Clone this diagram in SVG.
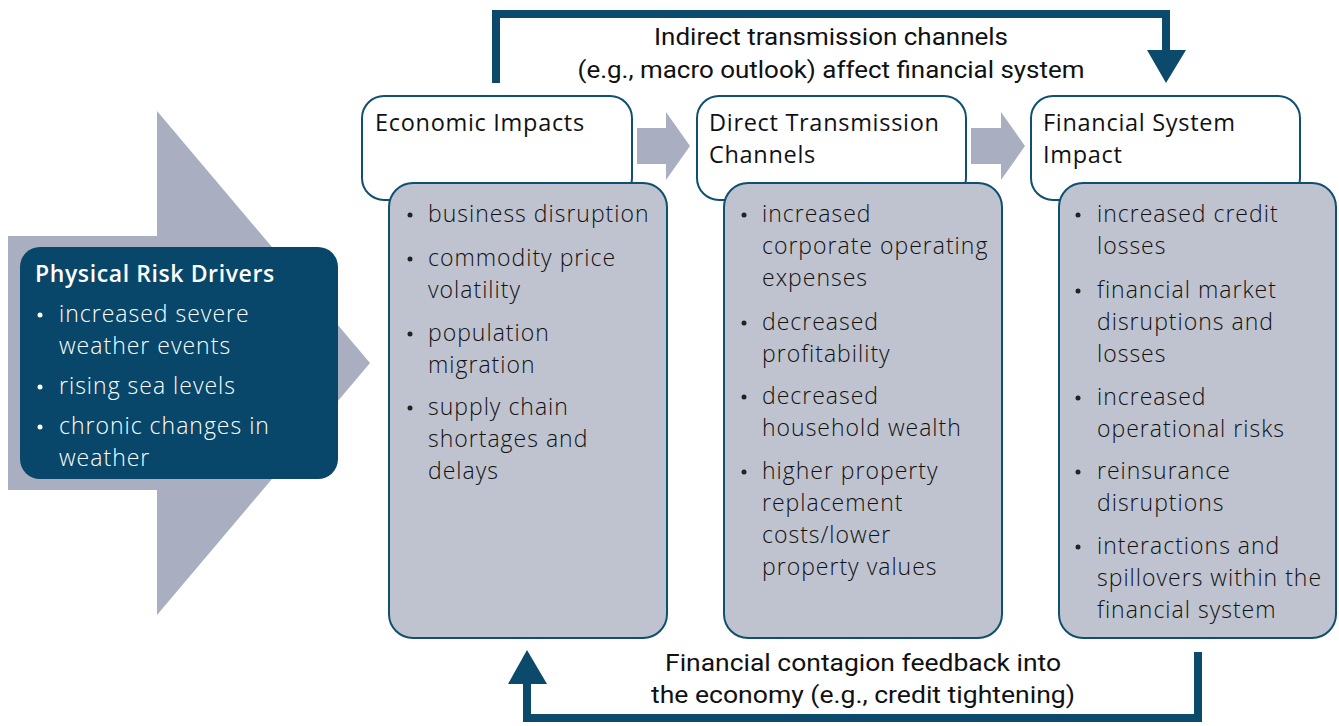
<svg xmlns="http://www.w3.org/2000/svg" width="1339" height="726" viewBox="0 0 1339 726">
  <style>
    .bg { fill: #ffffff; }
    .flow { fill: #a9afc0; }
    .head { fill: #ffffff; stroke: #0f4f70; stroke-width: 2; }
    .body { fill: #bfc3cf; stroke: #0f4f70; stroke-width: 2; }
    .title { font-family: "Open Sans", Lato, sans-serif; font-size: 23.5px; letter-spacing: 0.7px; fill: #111; }
    .item { font-family: "Open Sans", Lato, sans-serif; font-size: 23px; font-weight: 300; letter-spacing: 1px; fill: #111; }
    .dot { fill: #222; }
    .drv-title { font-family: "Open Sans", Lato, sans-serif; font-size: 23px; letter-spacing: 0.6px; font-weight: 600; fill: #ffffff; }
    .drv-item { font-family: "Open Sans", Lato, sans-serif; font-size: 23px; font-weight: 300; letter-spacing: 1px; fill: #ffffff; }
    .drv-dot { fill: #ffffff; }
    .link { fill: none; stroke: #0b4a6b; stroke-width: 8; }
    .tip { fill: #0b4a6b; }
    .lbl { font-family: Roboto, "Liberation Sans", sans-serif; font-size: 24px; fill: #111; text-anchor: middle; }
  </style>
  <rect class="bg" x="0" y="0" width="1339" height="726"/>

  <!-- broad arrow behind the drivers box -->
  <g id="drivers-arrow">
    <polygon class="flow" points="8,236 157,236 157,111 370,363 157,615 157,490 8,490"/>
  </g>

  <g id="physical-risk-drivers">
    <rect x="20" y="247" width="318" height="232" rx="20" fill="#08476a"/>
    <text class="drv-title" x="35" y="282">Physical Risk Drivers</text>
    <circle class="drv-dot" cx="40" cy="315" r="2.5"/>
    <text class="drv-item" x="59" y="322">increased severe</text>
    <text class="drv-item" x="59" y="354">weather events</text>
    <circle class="drv-dot" cx="40" cy="387" r="2.5"/>
    <text class="drv-item" x="59" y="394">rising sea levels</text>
    <circle class="drv-dot" cx="40" cy="427" r="2.5"/>
    <text class="drv-item" x="59" y="434">chronic changes in</text>
    <text class="drv-item" x="59" y="466">weather</text>
  </g>

  <!-- small arrows between column headers -->
  <g id="step-arrows">
    <polygon class="flow" points="637,128 666,128 666,112 690,146 666,180 666,164 637,164"/>
    <polygon class="flow" points="971,128 1001,128 1001,112 1025,146 1001,180 1001,164 971,164"/>
  </g>

  <g id="economic-impacts">
    <rect class="head" x="362" y="96" width="270" height="104" rx="22"/>
    <text class="title" x="375" y="131">Economic Impacts</text>
    <rect class="body" x="389" y="183" width="278" height="455" rx="24"/>
    <circle class="dot" cx="410" cy="215" r="2.5"/>
    <text class="item" x="428" y="222">business disruption</text>
    <circle class="dot" cx="410" cy="259" r="2.5"/>
    <text class="item" x="428" y="266">commodity price</text>
    <text class="item" x="428" y="298">volatility</text>
    <circle class="dot" cx="410" cy="334" r="2.5"/>
    <text class="item" x="428" y="341">population</text>
    <text class="item" x="428" y="373">migration</text>
    <circle class="dot" cx="410" cy="408" r="2.5"/>
    <text class="item" x="428" y="415">supply chain</text>
    <text class="item" x="428" y="447">shortages and</text>
    <text class="item" x="428" y="479">delays</text>
  </g>

  <g id="direct-transmission">
    <rect class="head" x="697" y="96" width="269" height="104" rx="22"/>
    <text class="title" x="709" y="131">Direct Transmission</text>
    <text class="title" x="709" y="163">Channels</text>
    <rect class="body" x="724" y="183" width="278" height="455" rx="24"/>
    <circle class="dot" cx="744" cy="215" r="2.5"/>
    <text class="item" x="762" y="222">increased</text>
    <text class="item" x="762" y="254">corporate operating</text>
    <text class="item" x="762" y="286">expenses</text>
    <circle class="dot" cx="744" cy="323" r="2.5"/>
    <text class="item" x="762" y="330">decreased</text>
    <text class="item" x="762" y="362">profitability</text>
    <circle class="dot" cx="744" cy="397" r="2.5"/>
    <text class="item" x="762" y="404">decreased</text>
    <text class="item" x="762" y="436">household wealth</text>
    <circle class="dot" cx="744" cy="472" r="2.5"/>
    <text class="item" x="762" y="479">higher property</text>
    <text class="item" x="762" y="511">replacement</text>
    <text class="item" x="762" y="543">costs/lower</text>
    <text class="item" x="762" y="575">property values</text>
  </g>

  <g id="financial-system-impact">
    <rect class="head" x="1031" y="96" width="269" height="104" rx="22"/>
    <text class="title" x="1043" y="131">Financial System</text>
    <text class="title" x="1043" y="163">Impact</text>
    <rect class="body" x="1059" y="183" width="277" height="455" rx="24"/>
    <circle class="dot" cx="1078" cy="215" r="2.5"/>
    <text class="item" x="1097" y="222">increased credit</text>
    <text class="item" x="1097" y="254">losses</text>
    <circle class="dot" cx="1078" cy="291" r="2.5"/>
    <text class="item" x="1097" y="298">financial market</text>
    <text class="item" x="1097" y="330">disruptions and</text>
    <text class="item" x="1097" y="362">losses</text>
    <circle class="dot" cx="1078" cy="398" r="2.5"/>
    <text class="item" x="1097" y="405">increased</text>
    <text class="item" x="1097" y="437">operational risks</text>
    <circle class="dot" cx="1078" cy="472" r="2.5"/>
    <text class="item" x="1097" y="479">reinsurance</text>
    <text class="item" x="1097" y="511">disruptions</text>
    <circle class="dot" cx="1078" cy="547" r="2.5"/>
    <text class="item" x="1097" y="554">interactions and</text>
    <text class="item" x="1097" y="586">spillovers within the</text>
    <text class="item" x="1097" y="618">financial system</text>
  </g>

  <g id="connectors">
    <polyline class="link" points="496,83 496,14 1166,14 1166,52"/>
    <polygon class="tip" points="1147,50 1186,50 1166,83"/>
    <polyline class="link" points="1198,652 1198,718 527,718 527,682"/>
    <polygon class="tip" points="508,684 547,684 527,650"/>
    <text class="lbl" x="831" y="45" textLength="354" lengthAdjust="spacingAndGlyphs">Indirect transmission channels</text>
    <text class="lbl" x="831" y="78" textLength="507" lengthAdjust="spacingAndGlyphs">(e.g., macro outlook) affect financial system</text>
    <text class="lbl" x="863" y="671" textLength="396" lengthAdjust="spacingAndGlyphs">Financial contagion feedback into</text>
    <text class="lbl" x="863" y="703" textLength="424" lengthAdjust="spacingAndGlyphs">the economy (e.g., credit tightening)</text>
  </g>
</svg>
